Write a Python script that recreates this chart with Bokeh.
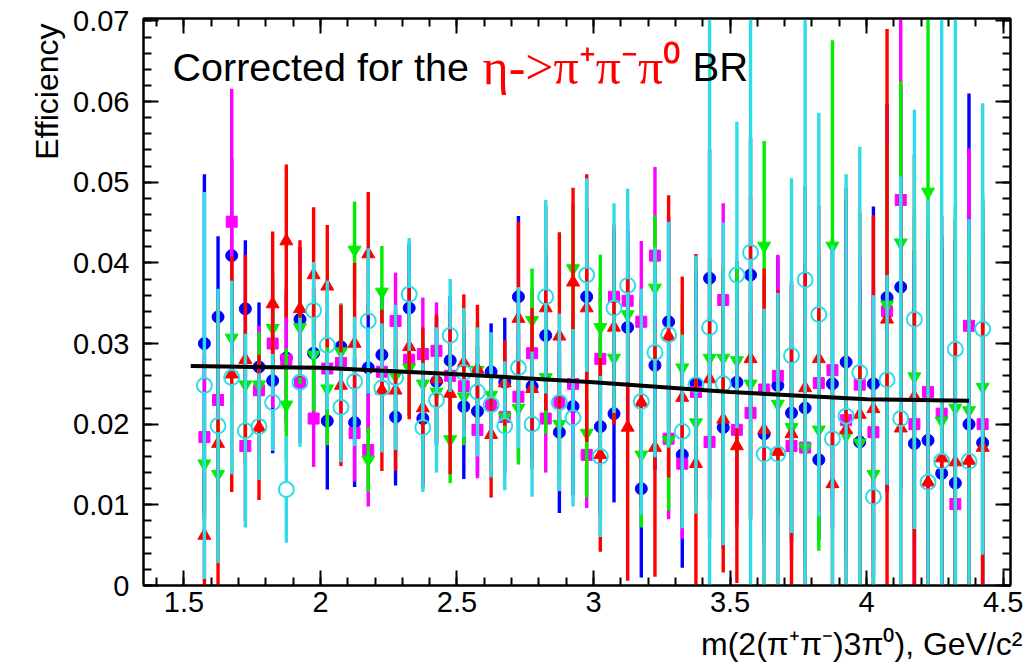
import math
import numpy as np
from bokeh.plotting import figure
from bokeh.models import FixedTicker, LinearAxis, Label, Range1d, Title
from bokeh.embed import file_html
from bokeh.resources import INLINE

# ---------------- data ----------------
mass = [1.575, 1.625, 1.675, 1.725, 1.775, 1.825, 1.875, 1.925, 1.975, 2.025,
        2.075, 2.125, 2.175, 2.225, 2.275, 2.325, 2.375, 2.425, 2.475, 2.525,
        2.575, 2.625, 2.675, 2.725, 2.775, 2.825, 2.875, 2.925, 2.975, 3.025,
        3.075, 3.125, 3.175, 3.225, 3.275, 3.325, 3.375, 3.425, 3.475, 3.525,
        3.575, 3.625, 3.675, 3.725, 3.775, 3.825, 3.875, 3.925, 3.975, 4.025,
        4.075, 4.125, 4.175, 4.225, 4.275, 4.325, 4.375, 4.425]

eff_blue = [0.0300, 0.0333, 0.0409, 0.0343, 0.0271, 0.0254, 0.0282, 0.0330, 0.0288, 0.0204,
            0.0296, 0.0202, 0.0270, 0.0286, 0.0209, 0.0344, 0.0207, 0.0253, 0.0279, 0.0222,
            0.0216, 0.0265, 0.0252, 0.0358, 0.0247, 0.0310, 0.0190, 0.0222, 0.0358, 0.0197,
            0.0213, 0.0320, 0.0120, 0.0273, 0.0327, 0.0162, 0.0251, 0.0381, 0.0196, 0.0252,
            0.0385, 0.0188, 0.0248, 0.0214, 0.0220, 0.0156, 0.0250, 0.0277, 0.0178, 0.0250,
            0.0357, 0.0370, 0.0176, 0.0180, 0.0139, 0.0127, 0.0200, 0.0177]
err_blue = [0.021, 0.010, 0.012, 0.0085, 0.008, 0.009, 0.008, 0.009, 0.008, 0.0085,
            0.005, 0.008, 0.008, 0.008, 0.0085, 0.008, 0.008, 0.008, 0.008, 0.009,
            0.008, 0.006, 0.008, 0.010, 0.009, 0.010, 0.010, 0.011, 0.011, 0.011,
            0.011, 0.012, 0.011, 0.013, 0.013, 0.014, 0.014, 0.016, 0.015, 0.015,
            0.017, 0.0136, 0.016, 0.016, 0.018, 0.010, 0.018, 0.020, 0.020, 0.022,
            0.024, 0.025, 0.024, 0.026, 0.028, 0.030, 0.041, 0.030]

eff_magenta = [0.0184, 0.0230, 0.0451, 0.0173, 0.0242, 0.0300, 0.0280, 0.0252, 0.0207, 0.0269,
               0.0276, 0.0189, 0.0168, 0.0265, 0.0328, 0.0280, 0.0287, 0.0291, 0.0260, 0.0247,
               0.0193, 0.0224, 0.0209, 0.0234, 0.0288, 0.0207, 0.0227, 0.0250, 0.0162, 0.0281,
               0.0358, 0.0353, 0.0327, 0.0409, 0.0182, 0.0151, 0.0240, 0.0178, 0.0354, 0.0193,
               0.0214, 0.0243, 0.0260, 0.0173, 0.0171, 0.0251, 0.0267, 0.0205, 0.0249, 0.0190,
               0.0340, 0.0478, 0.0200, 0.0240, 0.0213, 0.0101, 0.0322, 0.0200]
err_magenta = [0.010, 0.012, 0.0165, 0.0093, 0.008, 0.008, 0.009, 0.0075, 0.006, 0.007,
               0.007, 0.006, 0.007, 0.007, 0.006, 0.007, 0.007, 0.006, 0.007, 0.007,
               0.006, 0.007, 0.007, 0.008, 0.008, 0.0067, 0.008, 0.009, 0.0066, 0.009,
               0.009, 0.010, 0.010, 0.011, 0.010, 0.0093, 0.011, 0.012, 0.012, 0.012,
               0.013, 0.014, 0.015, 0.014, 0.015, 0.016, 0.016, 0.017, 0.016, 0.018,
               0.020, 0.025, 0.020, 0.022, 0.022, 0.024, 0.022, 0.024]

eff_green = [0.0151, 0.0138, 0.0307, 0.0249, 0.0249, 0.0319, 0.0224, 0.0320, 0.0286, 0.0244,
             0.0290, 0.0416, 0.0156, 0.0364, 0.0260, 0.0270, 0.0250, 0.0240, 0.0181, 0.0234,
             0.0267, 0.0236, 0.0209, 0.0220, 0.0329, 0.0258, 0.0200, 0.0393, 0.0189, 0.0320,
             0.0282, 0.0336, 0.0162, 0.0369, 0.0180, 0.0270, 0.0202, 0.0282, 0.0282, 0.0279,
             0.0250, 0.0421, 0.0225, 0.0196, 0.0171, 0.0193, 0.0421, 0.0186, 0.0177, 0.0138,
             0.0348, 0.0425, 0.0259, 0.0488, 0.0204, 0.0220, 0.0217, 0.0246]
err_green = [0.007, 0.007, 0.008, 0.007, 0.0065, 0.007, 0.007, 0.007, 0.007, 0.007,
             0.006, 0.006, 0.004, 0.0057, 0.006, 0.006, 0.006, 0.006, 0.0054, 0.006,
             0.006, 0.006, 0.006, 0.007, 0.0064, 0.007, 0.007, 0.008, 0.008, 0.009,
             0.008, 0.009, 0.009, 0.009, 0.0087, 0.008, 0.010, 0.011, 0.011, 0.012,
             0.012, 0.013, 0.013, 0.014, 0.014, 0.015, 0.0255, 0.016, 0.017, 0.018,
             0.020, 0.020, 0.020, 0.025, 0.022, 0.025, 0.022, 0.024]

eff_red = [0.0062, 0.0176, 0.0262, 0.0280, 0.0196, 0.0349, 0.0427, 0.0343, 0.0385, 0.0371,
           0.0248, 0.0300, 0.0411, 0.0242, 0.0242, 0.0296, 0.0220, 0.0256, 0.0238, 0.0276,
           0.0268, 0.0187, 0.0251, 0.0331, 0.0244, 0.0344, 0.0309, 0.0376, 0.0344, 0.0162,
           0.0320, 0.0196, 0.0227, 0.0171, 0.0309, 0.0233, 0.0151, 0.0256, 0.0206, 0.0173,
           0.0281, 0.0193, 0.0166, 0.0188, 0.0245, 0.0281, 0.0126, 0.0193, 0.0212, 0.0219,
           0.0330, 0.0195, 0.0234, 0.0128, 0.0158, 0.0153, 0.0155, 0.0171]
err_red = [0.008, 0.018, 0.0146, 0.013, 0.009, 0.009, 0.0095, 0.0085, 0.0084, 0.0076,
           0.010, 0.010, 0.0077, 0.010, 0.010, 0.009, 0.010, 0.008, 0.010, 0.0085,
           0.008, 0.0078, 0.0053, 0.012, 0.010, 0.0127, 0.0129, 0.0117, 0.0166, 0.012,
           0.012, 0.019, 0.013, 0.016, 0.0175, 0.015, 0.026, 0.015, 0.019, 0.017,
           0.020, 0.020, 0.020, 0.019, 0.025, 0.019, 0.013, 0.030, 0.025, 0.024,
           0.036, 0.030, 0.030, 0.030, 0.030, 0.030, 0.025, 0.017]

eff_cyan = [0.0248, 0.0198, 0.0258, 0.0192, 0.0197, 0.0227, 0.0119, 0.0252, 0.0341, 0.0298,
            0.0221, 0.0253, 0.0328, 0.0245, 0.0258, 0.0361, 0.0196, 0.0230, 0.0310, 0.0264,
            0.0240, 0.0224, 0.0198, 0.0270, 0.0200, 0.0358, 0.0227, 0.0208, 0.0385, 0.0160,
            0.0344, 0.0372, 0.0228, 0.0289, 0.0311, 0.0191, 0.0249, 0.0320, 0.0250, 0.0385,
            0.0413, 0.0163, 0.0163, 0.0285, 0.0379, 0.0336, 0.0182, 0.0210, 0.0264, 0.0110,
            0.0255, 0.0207, 0.0330, 0.0128, 0.0154, 0.0293, 0.0154, 0.0318]
err_cyan = [0.024, 0.017, 0.012, 0.012, 0.0066, 0.006, 0.0066, 0.008, 0.006, 0.008,
            0.0068, 0.008, 0.009, 0.008, 0.009, 0.007, 0.008, 0.009, 0.007, 0.008,
            0.008, 0.009, 0.008, 0.010, 0.009, 0.012, 0.011, 0.011, 0.012, 0.010,
            0.013, 0.012, 0.014, 0.013, 0.014, 0.012, 0.016, 0.045, 0.020, 0.019,
            0.050, 0.018, 0.020, 0.022, 0.050, 0.025, 0.024, 0.030, 0.028, 0.025,
            0.013, 0.030, 0.026, 0.035, 0.060, 0.060, 0.030, 0.028]

fit_mass = [1.525, 2.0, 2.5, 3.0, 3.5, 4.0, 4.375]
fit_eff = [0.0272, 0.0270, 0.0262, 0.0252, 0.0240, 0.0231, 0.0229]

x_ticks = [1.5, 2.0, 2.5, 3.0, 3.5, 4.0, 4.5]
x_tick_labels = ["1.5", "2", "2.5", "3", "3.5", "4", "4.5"]
y_ticks = [0.0, 0.01, 0.02, 0.03, 0.04, 0.05, 0.06, 0.07]
y_tick_labels = ["0", "0.01", "0.02", "0.03", "0.04", "0.05", "0.06", "0.07"]

# ---------------- figure ----------------
W, H = 1034, 672
ML, MR, MT, MB = 143, 24, 18, 87
X0, X1 = 1.352, 4.527
Y0, Y1 = 0.0, 0.0703

p = figure(width=W, height=H, output_backend="svg", toolbar_location=None,
           x_range=Range1d(X0, X1), y_range=Range1d(Y0, Y1),
           min_border_left=ML, min_border_right=MR, min_border_top=MT, min_border_bottom=MB,
           background_fill_color="white", border_fill_color="white")
p.xgrid.visible = False
p.ygrid.visible = False
p.outline_line_color = "black"
p.outline_line_width = 2

x_minor = [round(1.4 + 0.1 * i, 2) for i in range(32)]
y_minor = [round(0.002 * i, 4) for i in range(36)]
xt = FixedTicker(ticks=x_ticks, minor_ticks=x_minor)
yt = FixedTicker(ticks=y_ticks, minor_ticks=y_minor)


def style_axis(ax, labels):
    ax.major_tick_in = 15
    ax.major_tick_out = 0
    ax.minor_tick_in = 8
    ax.minor_tick_out = 0
    ax.axis_line_width = 2
    ax.axis_line_color = "black"
    ax.major_tick_line_width = 2
    ax.minor_tick_line_width = 2
    ax.major_tick_line_color = "black"
    ax.minor_tick_line_color = "black"
    ax.major_label_text_font = "Liberation Sans"
    ax.major_label_text_font_size = "29px"
    ax.major_label_text_color = "black"
    if not labels:
        ax.major_label_text_font_size = "0px"
        ax.major_label_standoff = 0


p.xaxis[0].ticker = xt
p.yaxis[0].ticker = yt
p.xaxis[0].major_label_overrides = dict(zip(x_ticks, x_tick_labels))
p.yaxis[0].major_label_overrides = dict(zip(y_ticks, y_tick_labels))
style_axis(p.xaxis[0], True)
style_axis(p.yaxis[0], True)
p.xaxis[0].major_label_standoff = 6
p.yaxis[0].major_label_standoff = 14

top_ax = LinearAxis(ticker=xt, major_label_overrides={t: "" for t in x_ticks})
right_ax = LinearAxis(ticker=yt, major_label_overrides={t: "" for t in y_ticks})
style_axis(top_ax, False)
style_axis(right_ax, False)
p.add_layout(top_ax, "above")
p.add_layout(right_ax, "right")

# axis titles (ROOT style, right/top aligned)
p.add_layout(Title(text="m(2(π⁺π⁻)3π⁰), GeV/c²", align="right", offset=-12, standoff=18,
                   text_font="Liberation Sans", text_font_size="32px", text_font_style="normal",
                   text_color="black"), "below")
p.add_layout(Title(text="Efficiency", align="right", offset=5, standoff=12,
                   text_font="Liberation Sans", text_font_size="32px", text_font_style="normal",
                   text_color="black"), "left")

# ---------------- series ----------------
m = np.array(mass)
px_per_y = (H - MT - MB) / (Y1 - Y0)

series = [
    (eff_blue, err_blue, "circle", "#0000ff", 12),
    (eff_magenta, err_magenta, "square", "#ff00ff", 11),
    (eff_green, err_green, "inverted_triangle", "#00ee00", 13),
    (eff_red, err_red, "triangle", "#ff0000", 13),
]
for eff, err, marker, col, size in series:
    y = np.array(eff)
    e = np.array(err)
    p.segment(x0=m, y0=y - e, x1=m, y1=y + e, line_color=col, line_width=3.4)
    p.scatter(x=m, y=y, marker=marker, size=size, fill_color=col, line_color=col)

cyan = "#30dde6"
yc = np.array(eff_cyan)
ec = np.array(err_cyan)
gap = 7.5 / px_per_y
p.segment(x0=m, y0=yc - ec, x1=m, y1=yc - gap, line_color=cyan, line_width=3.4)
p.segment(x0=m, y0=yc + gap, x1=m, y1=yc + ec, line_color=cyan, line_width=3.4)
p.scatter(x=m, y=yc, marker="circle", size=15, fill_color=None, line_color=cyan, line_width=2)

p.line(fit_mass, fit_eff, line_color="black", line_width=4)

# ---------------- in-frame caption ----------------
p.add_layout(Label(x=29, y=519, x_units="screen", y_units="screen", text="Corrected for the",
                   text_font="Liberation Sans", text_font_size="39.5px", text_baseline="middle",
                   text_color="black"))
p.add_layout(Label(x=339, y=519, x_units="screen", y_units="screen", text="η->π⁺π⁻π⁰",
                   text_font="Liberation Serif", text_font_size="50px", text_baseline="middle",
                   text_color="#ff0000"))
p.add_layout(Label(x=549, y=519, x_units="screen", y_units="screen", text="BR",
                   text_font="Liberation Sans", text_font_size="40px", text_baseline="middle",
                   text_color="black"))

open("out.html", "w").write(file_html(p, INLINE))
